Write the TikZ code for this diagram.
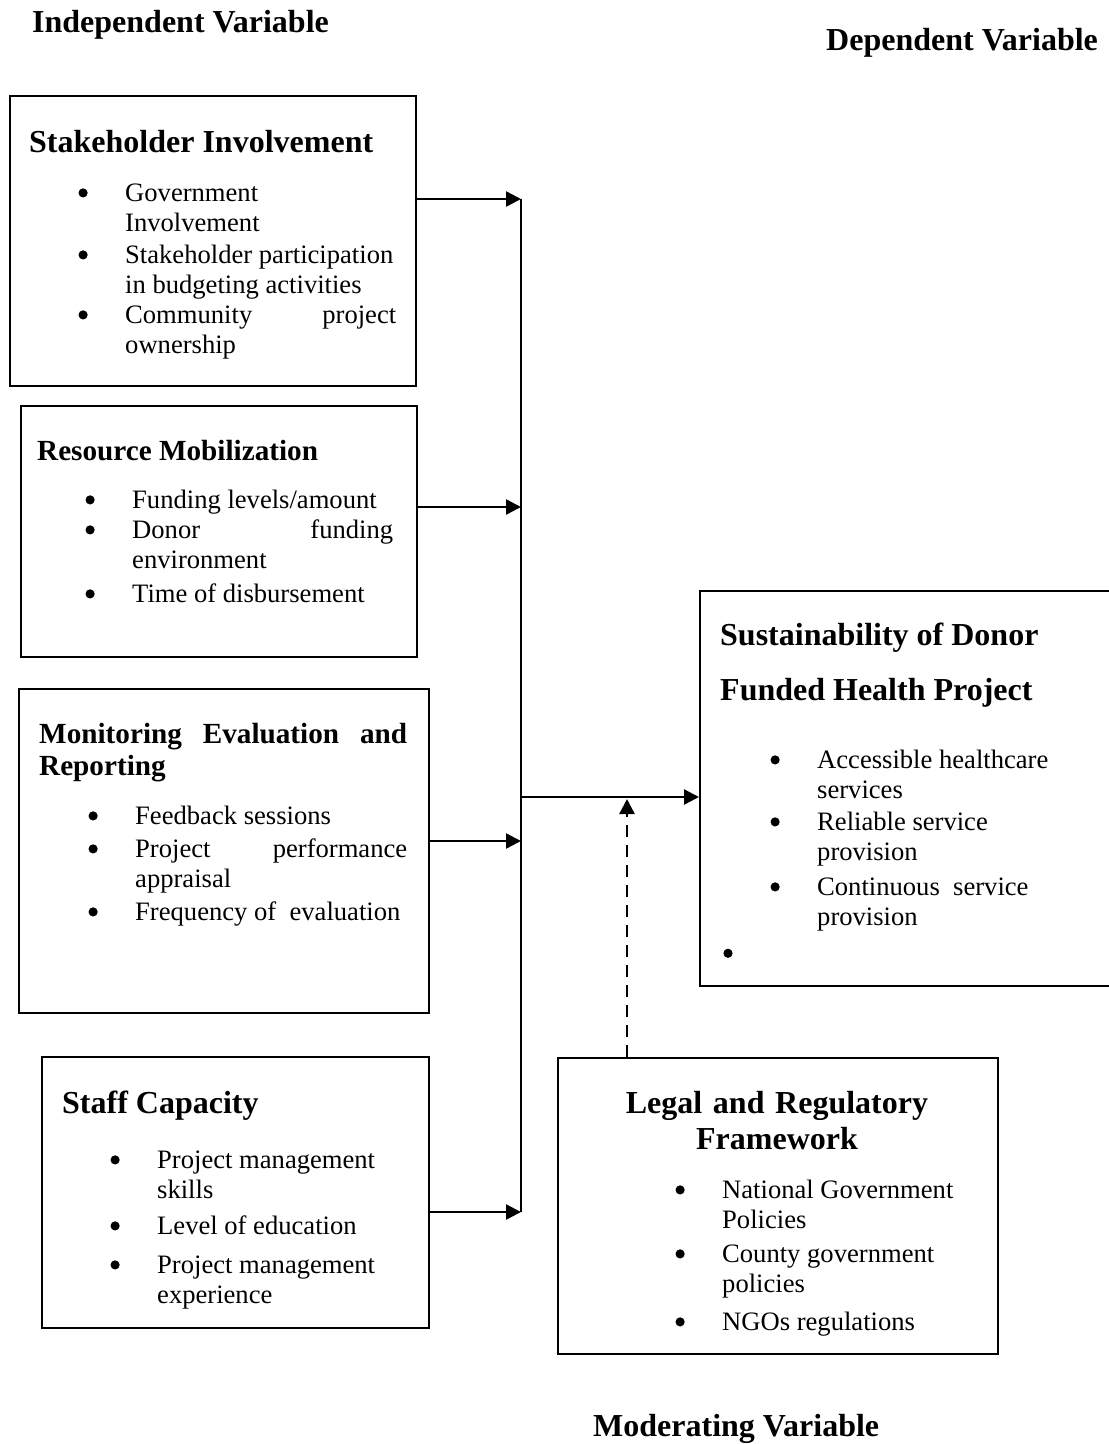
\documentclass[tikz,border=0pt]{standalone}
\usepackage{fontspec}
\setmainfont{Liberation Serif}
\usetikzlibrary{arrows.meta,positioning}
\newcommand{\bodyfont}{\fontsize{26.6}{30.5}\selectfont}
\newcommand{\headfont}{\fontsize{32}{32}\selectfont\bfseries}
\newcommand{\subheadfont}{\fontsize{29.2}{32}\selectfont\bfseries}
\newcommand{\sdheadfont}{\fontsize{32}{55}\selectfont\bfseries}
\newcommand{\lrheadfont}{\fontsize{32}{36}\selectfont\bfseries}
\newcommand{\bdot}{\raisebox{3.5pt}{\tikz\fill (0,0) circle (4.6pt);}}
\newcommand{\bul}{\leavevmode\llap{\bdot\hspace{37.5pt}}}
\tikzset{
  box/.style   = {draw, rectangle, line width=1.8pt, anchor=north west, inner sep=0pt},
  head/.style  = {anchor=base west, inner sep=0pt, font=\headfont, text width=#1, align=justify},
  head/.default = 400pt,
  item/.style  = {anchor=base west, inner sep=0pt, font=\bodyfont, text width=#1, align=justify},
  item/.default = 300pt,
  link/.style  = {-{Triangle[length=15pt,width=15pt]}, line width=2.4pt}
}
\begin{document}
\begin{tikzpicture}[x=1pt, y=-1pt]
\useasboundingbox (0,0) rectangle (1109,1444);

% variable headings
\node[head] (iv) at (32,32) {Independent Variable};
\node[head] (dv) at (826,50) {Dependent Variable};
\node[head] (mv) at (593,1436) {Moderating Variable};

% independent variables
\node[box, minimum width=406pt, minimum height=290pt] (b1) at (9,95) {};
\node[head] (b1t) at (29,152) {Stakeholder Involvement};
\node[item] (b11) at (125,201) {\bul Government\\Involvement};
\node[item] (b12) at (125,263) {\bul Stakeholder participation\\in budgeting activities};
\node[item=271pt] (b13) at (125,323) {\bul Community\hfill project\\ownership};

\node[box, minimum width=396pt, minimum height=251pt] (b2) at (20,405) {};
\node[head, font=\subheadfont] (b2t) at (37,460) {Resource Mobilization};
\node[item] (b21) at (132,508) {\bul Funding levels/amount};
\node[item=261pt] (b22) at (132,538) {\bul Donor\hfill funding\\environment};
\node[item] (b23) at (132,602) {\bul Time of disbursement};

\node[box, minimum width=410pt, minimum height=324pt] (b3) at (18,688) {};
\node[head=368pt, font=\subheadfont] (b3t) at (39,743) {Monitoring\hfill Evaluation\hfill and\\Reporting};
\node[item] (b31) at (135,824) {\bul Feedback sessions};
\node[item=272pt] (b32) at (135,857) {\bul Project\hfill performance\\appraisal};
\node[item] (b33) at (135,920) {\bul Frequency of\ \ evaluation};

\node[box, minimum width=387pt, minimum height=271pt] (b4) at (41,1056) {};
\node[head] (b4t) at (62,1113) {Staff Capacity};
\node[item] (b41) at (157,1168) {\bul Project management\\skills};
\node[item] (b42) at (157,1234) {\bul Level of education};
\node[item] (b43) at (157,1273) {\bul Project management\\experience};

% dependent variable
\node[box, minimum width=411pt, minimum height=395pt] (d) at (699,590) {};
\node[head, font=\sdheadfont] (dt) at (720,645) {Sustainability of Donor\\Funded Health Project};
\node[item] (d1) at (817,768) {\bul Accessible healthcare\\services};
\node[item] (d2) at (817,830) {\bul Reliable service\\provision};
\node[item] (d3) at (817,895) {\bul Continuous\ \ service\\provision};
\node[anchor=center, inner sep=0pt] (d4) at (728,955) {\bdot};

% moderating variable
\node[box, minimum width=440pt, minimum height=296pt] (m) at (557,1057) {};
\node[head=380pt, anchor=base, align=center, font=\lrheadfont] (mt) at (777,1113) {Legal and Regulatory\\Framework};
\node[item] (m1) at (722,1198) {\bul National Government\\Policies};
\node[item] (m2) at (722,1262) {\bul County government\\policies};
\node[item] (m3) at (722,1330) {\bul NGOs regulations};

% bus line and arrows
\coordinate (c1) at (521,199);
\coordinate (c2) at (521,507);
\coordinate (c3) at (521,841);
\coordinate (c4) at (521,1212);
\coordinate (cm) at (521,797);
\coordinate (cd) at (627,799);

\draw[line width=2.2pt] (c1) -- (c4);
\draw[link] (b1.east |- c1) -- (c1);
\draw[link] (b2.east |- c2) -- (c2);
\draw[link] (b3.east |- c3) -- (c3);
\draw[link] (b4.east |- c4) -- (c4);
\draw[link] (cm) -- (d.west |- cm);
\draw[link, dash pattern=on 12pt off 8pt] (m.north -| cd) -- (cd);

\end{tikzpicture}
\end{document}
